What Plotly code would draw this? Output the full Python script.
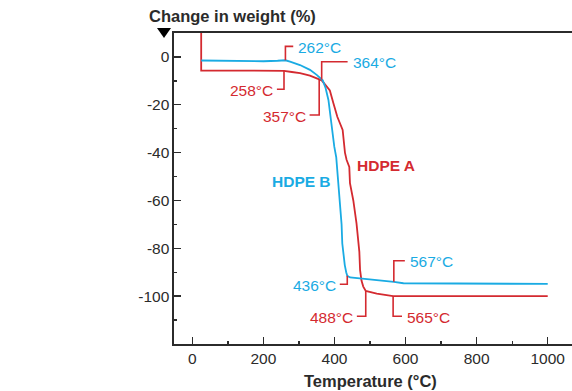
import numpy as np
import plotly.graph_objects as go

# ---------------- data ----------------
hdpe_b_temp = [25, 60, 100, 150, 200, 240, 262, 275, 303, 331, 350, 367, 375, 383, 389, 394,
               399.5, 405, 411, 417, 420, 422, 425, 429, 433, 436, 444, 472, 537, 567, 594,
               700, 800, 1000]
hdpe_b_wt = [-1.5, -1.6, -1.7, -1.9, -1.8, -1.6, -1.4, -2.0, -3.4, -5.4, -7.5, -9.8, -13, -18,
             -25, -32, -37.5, -42, -52.8, -61.2, -70, -78, -83, -87, -90, -91.5, -92.2, -92.6,
             -93.3, -94, -94.6, -94.7, -94.8, -94.9]

hdpe_a_temp = [25, 25, 100, 200, 258, 280, 303, 331, 350, 364, 375, 387, 397, 408, 423, 429.5,
               434, 441.7, 443.6, 453, 462, 467, 470, 472, 476, 481, 488, 519, 565, 700, 1000]
hdpe_a_wt = [10, -5.7, -5.7, -5.7, -5.8, -6.3, -6.8, -7.8, -8.8, -9.8, -11.8, -14, -19.4, -25,
             -30.5, -40, -43, -46, -52.8, -60, -69.6, -76.6, -81.5, -89, -93.5, -96, -97.8,
             -98.9, -100, -100, -100]

# callout labels: temperature, series
callout_temp = [262, 258, 364, 357, 436, 488, 567, 565]
callout_series = ["B", "A", "B", "A", "B", "A", "B", "A"]

x_ticks = [0, 200, 400, 600, 800, 1000]
x_tick_text = ["0", "200", "400", "600", "800", "1000"]
y_ticks = [0, -20, -40, -60, -80, -100]
y_tick_text = ["0", "-20", "-40", "-60", "-80", "-100"]

# ---------------- style ----------------
BLUE = "#1AABE3"
RED = "#D42A30"
DARK = "#2b2b2b"
FONT = "Liberation Sans, Arial, sans-serif"
FS = 15.5
TFS = 16.5

# callout geometry (elbow y level, stub length in °C, text side)
callout_style = {
    262: dict(ey=4.4, stub=22, side="right"),
    258: dict(ey=-13.5, stub=-20, side="left"),
    364: dict(ey=-2.0, stub=73, side="right"),
    357: dict(ey=-24.3, stub=-27, side="left"),
    436: dict(ey=-95.0, stub=-21, side="left"),
    488: dict(ey=-108.4, stub=-25, side="left"),
    567: dict(ey=-85.2, stub=31, side="right"),
    565: dict(ey=-108.4, stub=25, side="right"),
}

fig = go.Figure()
fig.add_trace(go.Scatter(x=hdpe_a_temp, y=hdpe_a_wt, mode="lines",
                         line=dict(color=RED, width=1.8), hoverinfo="skip", showlegend=False))
fig.add_trace(go.Scatter(x=hdpe_b_temp, y=hdpe_b_wt, mode="lines",
                         line=dict(color=BLUE, width=1.8), hoverinfo="skip", showlegend=False))

series = {"A": (hdpe_a_temp[1:], hdpe_a_wt[1:], RED), "B": (hdpe_b_temp, hdpe_b_wt, BLUE)}
for t, s in zip(callout_temp, callout_series):
    xs, ys, col = series[s]
    yc = float(np.interp(t, xs, ys))
    st = callout_style[t]
    ex = t + st["stub"]
    fig.add_trace(go.Scatter(x=[t, t, ex], y=[yc, st["ey"], st["ey"]], mode="lines",
                             line=dict(color=RED, width=1.6), hoverinfo="skip",
                             showlegend=False))
    fig.add_annotation(x=ex, y=st["ey"], text=f"{t}°C", showarrow=False,
                       xanchor="left" if st["side"] == "right" else "right",
                       yanchor="middle", xshift=3 if st["side"] == "right" else -2,
                       yshift=-1, font=dict(family=FONT, size=FS, color=col))

fig.add_annotation(x=307, y=-52, text="<b>HDPE B</b>", showarrow=False,
                   font=dict(family=FONT, size=FS, color=BLUE))
fig.add_annotation(x=544, y=-45.4, text="<b>HDPE A</b>", showarrow=False,
                   font=dict(family=FONT, size=FS, color=RED))

# geometry helpers (page pixels -> paper coords)
W, H = 398.0, 311.0
def px(x): return (x - 174) / W
def py(y): return (344 - y) / H

# axis titles
fig.add_annotation(xref="paper", yref="paper", x=px(147), y=py(16), xanchor="left",
                   yanchor="middle", text="<b>Change in weight (%)</b>", showarrow=False,
                   font=dict(family=FONT, size=TFS, color=DARK))
fig.add_annotation(xref="paper", yref="paper", x=px(370), y=py(381), xanchor="center",
                   yanchor="middle", text="<b>Temperature (°C)</b>", showarrow=False,
                   font=dict(family=FONT, size=TFS, color=DARK))

# triangle marker
fig.add_shape(type="path", xref="paper", yref="paper",
              path=f"M {px(157)} {py(28)} L {px(171)} {py(28)} L {px(164)} {py(38)} Z",
              fillcolor="black", line=dict(width=0))

fig.update_layout(
    width=572, height=391,
    margin=dict(l=174, r=0, t=33, b=47),
    paper_bgcolor="white", plot_bgcolor="white",
    font=dict(family=FONT, size=FS, color=DARK),
    xaxis=dict(range=[-51.5, 1068.3], tickvals=x_ticks, ticktext=x_tick_text,
               ticks="inside", ticklen=7,
               tickwidth=1.3, tickcolor=DARK, showline=True, linecolor=DARK, linewidth=1.6,
               mirror=True, showgrid=False, zeroline=False,
               minor=dict(dtick=100, tick0=0, ticks="inside", ticklen=3, tickcolor=DARK,
                          tickwidth=1.3, showgrid=False),
               tickfont=dict(family=FONT, size=FS, color=DARK)),
    yaxis=dict(range=[-120, 10], tickvals=y_ticks, ticktext=y_tick_text,
               ticks="inside", ticklen=7,
               tickwidth=1.3, tickcolor=DARK, showline=True, linecolor=DARK, linewidth=1.6,
               showgrid=False, zeroline=False,
               minor=dict(dtick=10, tick0=0, ticks="inside", ticklen=3, tickcolor=DARK,
                          tickwidth=1.3, showgrid=False),
               tickfont=dict(family=FONT, size=FS, color=DARK)),
)

fig.write_html("out.html", config={"displayModeBar": False, "staticPlot": True},
               post_script="document.body.style.margin='0';document.body.style.overflow='hidden';")
